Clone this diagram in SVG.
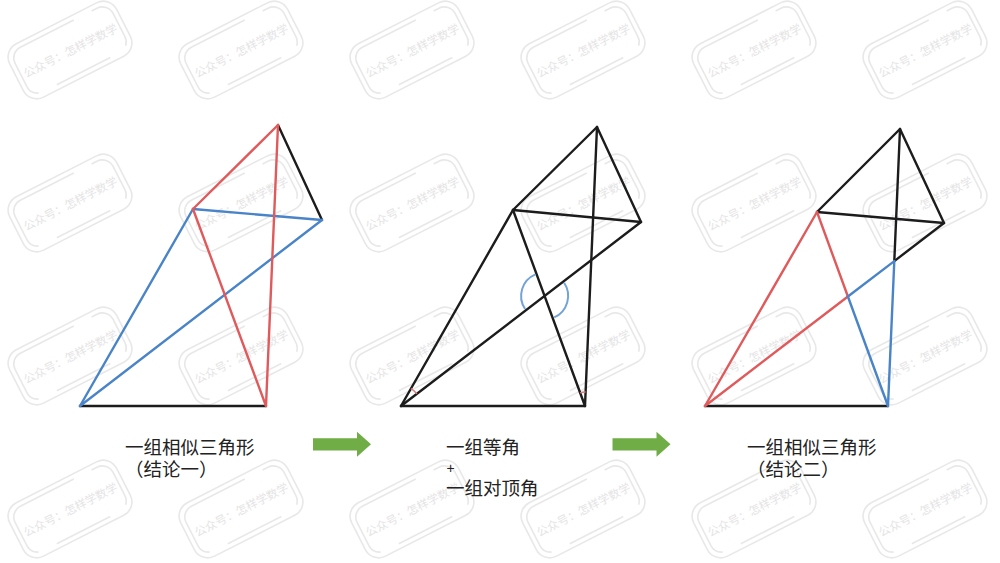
<svg xmlns="http://www.w3.org/2000/svg" xmlns:xlink="http://www.w3.org/1999/xlink" width="1000" height="563" viewBox="0 0 1000 563">
  <style>
    .wm-frame { fill: none; stroke: #e8e8e8; stroke-width: 1.6; }
    .wm-text { font-family: "Noto Sans CJK SC", "Noto Sans", sans-serif; font-size: 11.5px; fill: #e4e4e4; }
    .k { stroke: #1c1c1c; stroke-width: 2.4; stroke-linecap: round; fill: none; }
    .r { stroke: #e05a5c; stroke-width: 2.4; stroke-linecap: round; fill: none; }
    .b { stroke: #4a84c8; stroke-width: 2.4; stroke-linecap: round; fill: none; }
    .arc-b { stroke: #74a3d8; stroke-width: 2; fill: none; }
    .arc-r { stroke: #e07878; stroke-width: 1.4; fill: none; }
    .lbl { font-family: "Noto Sans CJK SC", "Noto Sans", sans-serif; font-size: 18.5px; fill: #222222; }
    .plus { font-family: "Liberation Sans", "Noto Sans", sans-serif; font-size: 14px; fill: #222222; }
    .arrow { fill: #70ad47; }
  </style>
  <defs>
    <g id="wm">
      <g transform="rotate(-27)">
        <rect class="wm-frame" x="-60" y="-30" width="120" height="60" rx="15"/>
        <rect class="wm-frame" x="-55" y="-25" width="110" height="50" rx="12" stroke-dasharray="60 20"/>
        <text class="wm-text" x="0" y="5" text-anchor="middle">公众号：怎样学数学</text>
      </g>
    </g>
  </defs>
  <rect width="1000" height="563" fill="#ffffff"/>

  <g id="watermark">
    <use xlink:href="#wm" href="#wm" x="70" y="50"/>
    <use xlink:href="#wm" href="#wm" x="241" y="50"/>
    <use xlink:href="#wm" href="#wm" x="412" y="50"/>
    <use xlink:href="#wm" href="#wm" x="583" y="50"/>
    <use xlink:href="#wm" href="#wm" x="754" y="50"/>
    <use xlink:href="#wm" href="#wm" x="925" y="50"/>
    <use xlink:href="#wm" href="#wm" x="70" y="203"/>
    <use xlink:href="#wm" href="#wm" x="241" y="203"/>
    <use xlink:href="#wm" href="#wm" x="412" y="203"/>
    <use xlink:href="#wm" href="#wm" x="583" y="203"/>
    <use xlink:href="#wm" href="#wm" x="754" y="203"/>
    <use xlink:href="#wm" href="#wm" x="925" y="203"/>
    <use xlink:href="#wm" href="#wm" x="70" y="356"/>
    <use xlink:href="#wm" href="#wm" x="241" y="356"/>
    <use xlink:href="#wm" href="#wm" x="412" y="356"/>
    <use xlink:href="#wm" href="#wm" x="583" y="356"/>
    <use xlink:href="#wm" href="#wm" x="754" y="356"/>
    <use xlink:href="#wm" href="#wm" x="925" y="356"/>
    <use xlink:href="#wm" href="#wm" x="70" y="509"/>
    <use xlink:href="#wm" href="#wm" x="241" y="509"/>
    <use xlink:href="#wm" href="#wm" x="412" y="509"/>
    <use xlink:href="#wm" href="#wm" x="583" y="509"/>
    <use xlink:href="#wm" href="#wm" x="754" y="509"/>
    <use xlink:href="#wm" href="#wm" x="925" y="509"/>
  </g>

  <!-- Figure 1 -->
  <g id="figure1">
    <line class="k" x1="80" y1="406" x2="266" y2="406"/>
    <line class="k" x1="278" y1="125" x2="322" y2="220"/>
    <line class="b" x1="80" y1="406" x2="193" y2="209"/>
    <line class="b" x1="193" y1="209" x2="322" y2="220"/>
    <line class="b" x1="80" y1="406" x2="322" y2="220"/>
    <line class="r" x1="193" y1="209" x2="278" y2="125"/>
    <line class="r" x1="193" y1="209" x2="266" y2="406"/>
    <line class="r" x1="278" y1="125" x2="266" y2="406"/>
  </g>

  <!-- Figure 2 -->
  <g id="figure2">
    <line class="k" x1="401" y1="406" x2="585" y2="406"/>
    <line class="k" x1="401" y1="406" x2="513" y2="210"/>
    <line class="k" x1="513" y1="210" x2="641" y2="222"/>
    <line class="k" x1="401" y1="406" x2="641" y2="222"/>
    <line class="k" x1="513" y1="210" x2="597" y2="127"/>
    <line class="k" x1="513" y1="210" x2="585" y2="406"/>
    <line class="k" x1="597" y1="127" x2="585" y2="406"/>
    <line class="k" x1="597" y1="127" x2="641" y2="222"/>
    <path class="arc-b" d="M535.4,274.3 A23.5,23.5 0 0 0 525.1,309.0"/>
    <path class="arc-b" d="M564.1,282.8 A23.5,23.5 0 0 1 554.2,317.4"/>
    <path class="arc-r" d="M410.9,388.6 A20,20 0 0 1 416.9,393.8"/>
    <path class="arc-r" d="M580.2,392.9 A14,14 0 0 1 585.6,392.0"/>
  </g>

  <!-- Figure 3 -->
  <g id="figure3">
    <line class="k" x1="705" y1="406" x2="888" y2="406"/>
    <line class="k" x1="817" y1="212" x2="900" y2="129"/>
    <line class="k" x1="817" y1="212" x2="944" y2="223"/>
    <line class="k" x1="900" y1="129" x2="944" y2="223"/>
    <line class="k" x1="900" y1="129" x2="894.3" y2="261.1"/>
    <line class="k" x1="894.3" y1="261.1" x2="944" y2="223"/>
    <line class="r" x1="705" y1="406" x2="817" y2="212"/>
    <line class="r" x1="705" y1="406" x2="847.9" y2="296.5"/>
    <line class="r" x1="817" y1="212" x2="847.9" y2="296.5"/>
    <line class="b" x1="847.9" y1="296.5" x2="888" y2="406"/>
    <line class="b" x1="847.9" y1="296.5" x2="894.3" y2="261.1"/>
    <line class="b" x1="894.3" y1="261.1" x2="888" y2="406"/>
  </g>

  <!-- Labels -->
  <g id="label1">
    <text class="lbl" x="125" y="454">一组相似三角形<tspan x="125" y="475.5">（结论一）</tspan></text>
  </g>
  <g id="label2">
    <text class="lbl" x="446" y="454">一组等角</text>
    <text class="plus" x="446.5" y="473">+</text>
    <text class="lbl" x="446" y="495">一组对顶角</text>
  </g>
  <g id="label3">
    <text class="lbl" x="747" y="454">一组相似三角形<tspan x="747" y="475.5">（结论二）</tspan></text>
  </g>

  <!-- Arrows -->
  <g id="connectors">
    <path class="arrow" d="M313,438.3 L357,438.3 L357,431.7 L371,444.3 L357,456.7 L357,450.5 L313,450.5 Z"/>
    <path class="arrow" d="M612.5,438.3 L656.5,438.3 L656.5,431.7 L670.5,444.3 L656.5,456.7 L656.5,450.5 L612.5,450.5 Z"/>
  </g>
</svg>
